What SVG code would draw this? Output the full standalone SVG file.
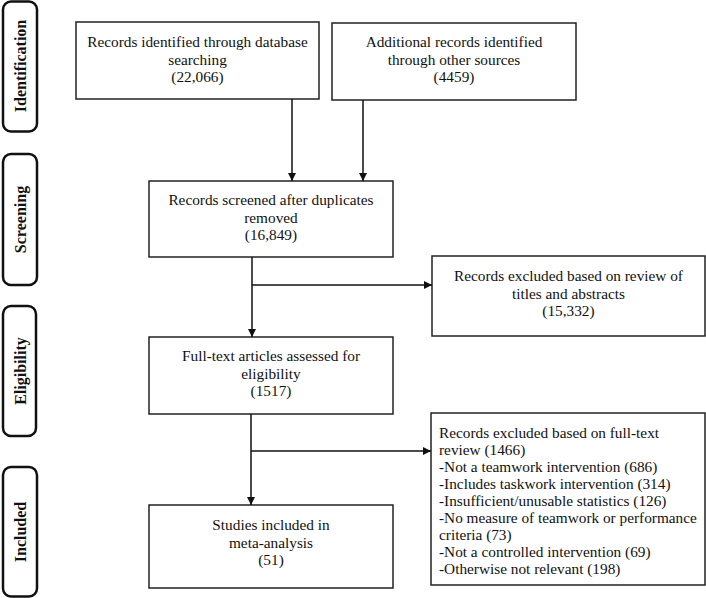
<svg xmlns="http://www.w3.org/2000/svg" width="706" height="598" viewBox="0 0 706 598">
<style>
.box{fill:#fff;stroke:#222;stroke-width:1.5}
.side{fill:#fff;stroke:#111;stroke-width:2.5}
.t{font-family:"Liberation Serif","Times New Roman",serif;font-size:15.3px;fill:#111;text-anchor:middle}
.tl{font-family:"Liberation Serif","Times New Roman",serif;font-size:15.3px;fill:#111}
.st{font-family:"Liberation Serif","Times New Roman",serif;font-size:16px;font-weight:bold;fill:#111;text-anchor:middle}
.c{fill:none;stroke:#111;stroke-width:1.5}
</style>
<defs>
<marker id="ah" viewBox="0 0 10 10" refX="10" refY="5" markerWidth="8" markerHeight="8" markerUnits="userSpaceOnUse" orient="auto">
<path d="M0,0 L10,5 L0,10 Z" fill="#111"/>
</marker>
</defs>
<g id="side-identification"><rect class="side" x="3" y="1.5" width="34" height="130" rx="8"/><text class="st" transform="translate(26,66) rotate(-90)">Identification</text></g>
<g id="side-screening"><rect class="side" x="3" y="154" width="34" height="131" rx="8"/><text class="st" transform="translate(26,219.5) rotate(-90)">Screening</text></g>
<g id="side-eligibility"><rect class="side" x="3" y="306" width="33" height="130" rx="8"/><text class="st" transform="translate(25.5,371) rotate(-90)">Eligibility</text></g>
<g id="side-included"><rect class="side" x="3" y="467" width="34" height="129.5" rx="8"/><text class="st" transform="translate(26,532) rotate(-90)">Included</text></g>

<g id="n-database"><rect class="box" x="76" y="22" width="243" height="77"/>
<text class="t" x="197.5" y="47">Records identified through database</text>
<text class="t" x="197.5" y="64.5">searching</text>
<text class="t" x="197.5" y="82">(22,066)</text></g>
<g id="n-other"><rect class="box" x="332" y="23" width="244" height="77"/>
<text class="t" x="454" y="47">Additional records identified</text>
<text class="t" x="454" y="64.5">through other sources</text>
<text class="t" x="454" y="82">(4459)</text></g>
<g id="n-screened"><rect class="box" x="149" y="181" width="244" height="76"/>
<text class="t" x="271" y="205">Records screened after duplicates</text>
<text class="t" x="271" y="222.5">removed</text>
<text class="t" x="271" y="240">(16,849)</text></g>
<g id="n-excl1"><rect class="box" x="432" y="256" width="273" height="80"/>
<text class="t" x="568.5" y="281">Records excluded based on review of</text>
<text class="t" x="568.5" y="298.5">titles and abstracts</text>
<text class="t" x="568.5" y="316">(15,332)</text></g>
<g id="n-fulltext"><rect class="box" x="149" y="337" width="244" height="77"/>
<text class="t" x="271" y="361">Full-text articles assessed for</text>
<text class="t" x="271" y="378.5">eligibility</text>
<text class="t" x="271" y="396">(1517)</text></g>
<g id="n-excl2"><rect class="box" x="431" y="413" width="274" height="172"/>
<text class="tl" x="439" y="438">Records excluded based on full-text</text>
<text class="tl" x="439" y="455">review (1466)</text>
<text class="tl" x="439" y="472">-Not a teamwork intervention (686)</text>
<text class="tl" x="439" y="489">-Includes taskwork intervention (314)</text>
<text class="tl" x="439" y="506">-Insufficient/unusable statistics (126)</text>
<text class="tl" x="439" y="523">-No measure of teamwork or performance</text>
<text class="tl" x="439" y="540">criteria (73)</text>
<text class="tl" x="439" y="557">-Not a controlled intervention (69)</text>
<text class="tl" x="439" y="574">-Otherwise not relevant (198)</text></g>
<g id="n-included"><rect class="box" x="149" y="505" width="244" height="83"/>
<text class="t" x="271" y="530">Studies included in</text>
<text class="t" x="271" y="547.5">meta-analysis</text>
<text class="t" x="271" y="565">(51)</text></g>

<g id="connectors">
<line class="c" x1="292" y1="99" x2="292" y2="181" marker-end="url(#ah)"/>
<line class="c" x1="363" y1="100" x2="363" y2="181" marker-end="url(#ah)"/>
<line class="c" x1="252" y1="257" x2="252" y2="337" marker-end="url(#ah)"/>
<line class="c" x1="252" y1="285" x2="432" y2="285" marker-end="url(#ah)"/>
<line class="c" x1="251" y1="414" x2="251" y2="505" marker-end="url(#ah)"/>
<line class="c" x1="251" y1="451" x2="431" y2="451" marker-end="url(#ah)"/>
</g>
</svg>
